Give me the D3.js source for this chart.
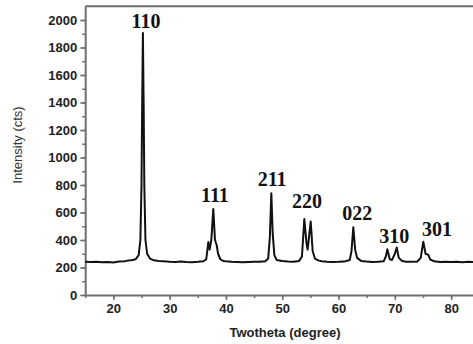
<!DOCTYPE html>
<html>
<head>
<meta charset="utf-8">
<script src="https://cdn.jsdelivr.net/npm/d3@7"></script>
<style>
  body { margin: 0; background: #fff; }
  svg { display: block; }
</style>
</head>
<body>
<div id="xrd_chart"></div>
<script>
// XRD pattern: [2theta, counts]
const pattern = [
  [15, 242], [16, 240], [17, 241], [18, 238], [19, 240], [20, 237], [21, 243],
  [22, 246], [22.5, 250], [23, 252], [23.5, 255], [24, 262], [24.5, 290],
  [24.8, 400], [25.0, 800], [25.1, 1300], [25.25, 1905], [25.4, 1300],
  [25.5, 800], [25.7, 400], [26, 300], [26.5, 265], [27, 255], [28, 248],
  [29, 245], [30, 242], [31, 240], [32, 243], [33, 240], [34, 238], [35, 241],
  [36, 245], [36.5, 260], [36.87, 385], [37.1, 330], [37.4, 400], [37.75, 625],
  [38.05, 400], [38.36, 362], [38.6, 300], [39, 260], [39.5, 248], [40, 245],
  [41, 242], [42, 240], [43, 238], [44, 240], [45, 242], [46, 241], [47, 245],
  [47.5, 265], [47.8, 420], [48.06, 740], [48.3, 450], [48.6, 290], [49, 255],
  [50, 247], [51, 244], [52, 242], [53, 248], [53.5, 280], [53.92, 552],
  [54.3, 380], [54.5, 330], [54.7, 400], [55.05, 535], [55.4, 320], [55.8, 265],
  [56.5, 250], [57, 245], [58, 242], [59, 240], [60, 241], [61, 243], [62, 255],
  [62.3, 320], [62.62, 492], [62.95, 330], [63.3, 270], [64, 248], [65, 243],
  [66, 240], [67, 242], [68, 245], [68.4, 280], [68.66, 332], [69.1, 260],
  [69.5, 255], [70.0, 300], [70.33, 345], [70.7, 270], [71.3, 248], [72, 242],
  [73, 241], [74, 244], [74.6, 270], [75.05, 388], [75.45, 300], [75.94, 292],
  [76.3, 258], [77, 245], [78, 240], [79, 242], [80, 240], [81, 242], [82, 239],
  [83, 241], [84, 240], [85, 240],
];

// peak indices and where they sit (2theta, counts at text baseline)
const peakLabels = ['110', '111', '211', '220', '022', '310', '301'];
const peakLabelX = [25.8, 38.05, 48.2, 54.4, 63.3, 69.9, 77.5];
const peakLabelY = [1942, 676, 793, 633, 545, 378, 429];

const xTicks = [20, 30, 40, 50, 60, 70, 80];
const yTicks = [0, 200, 400, 600, 800, 1000, 1200, 1400, 1600, 1800, 2000];

const width = 473;
const height = 344;

const svg = d3.select('#xrd_chart')
  .append('svg')
  .attr('width', width)
  .attr('height', height);

const x = d3.scaleLinear()
  .domain([15, 85])
  .range([85.2, 479.3]);

const y = d3.scaleLinear()
  .domain([0, 2100])
  .range([295, 6.25]);

const axisColor = '#6f6f6f';
const labelFont = 'Liberation Sans, Arial, sans-serif';

// top frame line
svg.append('line')
  .attr('x1', x(15)).attr('x2', width)
  .attr('y1', y(2100)).attr('y2', y(2100))
  .attr('stroke', axisColor)
  .attr('stroke-width', 2);

// minor ticks
svg.append('g')
  .attr('transform', 'translate(0,' + y(0) + ')')
  .call(d3.axisBottom(x).tickValues(d3.range(15, 85, 5)).tickSize(3).tickFormat(''))
  .call(g => g.select('.domain').remove())
  .selectAll('line').attr('stroke', axisColor).attr('stroke-width', 1.5);

svg.append('g')
  .attr('transform', 'translate(' + x(15) + ',0)')
  .call(d3.axisLeft(y).tickValues(d3.range(0, 2100, 100)).tickSize(3).tickFormat(''))
  .call(g => g.select('.domain').remove())
  .selectAll('line').attr('stroke', axisColor).attr('stroke-width', 1.5);

// major axes
const xAxis = svg.append('g')
  .attr('transform', 'translate(0,' + y(0) + ')')
  .call(d3.axisBottom(x).tickValues(xTicks).tickFormat(d3.format('d'))
    .tickSize(5).tickPadding(4).tickSizeOuter(0));

const yAxis = svg.append('g')
  .attr('transform', 'translate(' + x(15) + ',0)')
  .call(d3.axisLeft(y).tickValues(yTicks).tickFormat(d3.format('d'))
    .tickSize(5).tickPadding(3).tickSizeOuter(0));

[xAxis, yAxis].forEach(a => {
  a.select('.domain').attr('stroke', axisColor).attr('stroke-width', 2);
  a.selectAll('.tick line').attr('stroke', axisColor).attr('stroke-width', 1.5);
  a.selectAll('.tick text')
    .attr('fill', '#222')
    .style('font-family', labelFont)
    .style('font-weight', 'bold')
    .style('font-size', '13px');
});

// the pattern
svg.append('path')
  .datum(pattern)
  .attr('fill', 'none')
  .attr('stroke', '#111')
  .attr('stroke-width', 2)
  .attr('stroke-linejoin', 'round')
  .attr('d', d3.line()
    .x(d => x(d[0]))
    .y(d => y(d[1])));

// peak labels
svg.append('g').selectAll('text')
  .data(peakLabels)
  .enter()
  .append('text')
  .attr('x', (d, i) => x(peakLabelX[i]))
  .attr('y', (d, i) => y(peakLabelY[i]))
  .attr('text-anchor', 'middle')
  .attr('fill', '#111')
  .style('font-family', 'Liberation Serif, Times New Roman, serif')
  .style('font-weight', 'bold')
  .style('font-size', '20px')
  .text(d => d);

// axis titles
svg.append('text')
  .attr('x', 285)
  .attr('y', 337)
  .attr('text-anchor', 'middle')
  .attr('fill', '#222')
  .style('font-family', labelFont)
  .style('font-weight', 'bold')
  .style('font-size', '13px')
  .text('Twotheta (degree)');

svg.append('text')
  .attr('transform', 'translate(22,145) rotate(-90)')
  .attr('text-anchor', 'middle')
  .attr('fill', '#333')
  .style('font-family', labelFont)
  .style('font-size', '13px')
  .text('Intensity (cts)');
</script>
</body>
</html>
